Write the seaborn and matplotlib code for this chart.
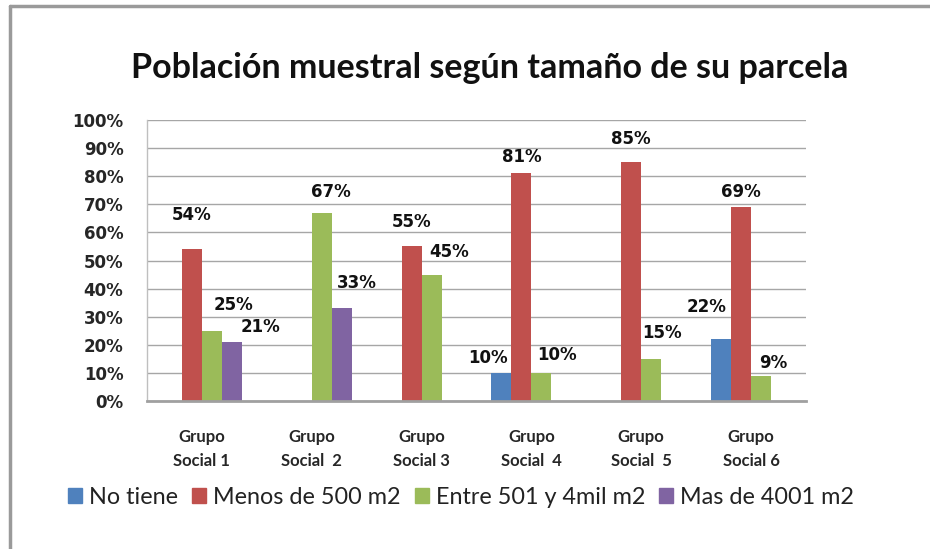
import numpy as np
import matplotlib
matplotlib.use("Agg")
import matplotlib.pyplot as plt
import matplotlib.patches as mpatches
import pandas as pd
import seaborn as sns

# data
grupos = ["Grupo\nSocial 1", "Grupo\nSocial  2", "Grupo\nSocial 3",
          "Grupo\nSocial  4", "Grupo\nSocial  5", "Grupo\nSocial 6"]
series = ["No tiene", "Menos de 500 m2", "Entre 501 y 4mil m2", "Mas de 4001 m2"]
no_tiene = [0, 0, 0, 10, 0, 22]
menos_500 = [54, 0, 55, 81, 85, 69]
entre_501_4mil = [25, 67, 45, 10, 15, 9]
mas_4001 = [21, 33, 0, 0, 0, 0]
colores = ["#4F81BD", "#C0504D", "#9BBB59", "#8064A2"]
y_ticks = np.arange(0, 101, 10)

# label offsets in pixels (dx, dy) per series, per group, mimicking the manual placement
label_offsets = {
    0: [None, None, None, (-13, 15), None, (-14, 32)],
    1: [(0, 34), None, (0, 24), (0, 16), (0, 23), (0, 15)],
    2: [(22, 26), (9, 21), (18, 23), (16, 18), (11, 26), (12, 13)],
    3: [(29, 15), (15, 25), None, None, None, None],
}

valores = [no_tiene, menos_500, entre_501_4mil, mas_4001]
df = pd.DataFrame({
    "grupo": np.tile(grupos, len(series)),
    "serie": np.repeat(series, len(grupos)),
    "valor": np.concatenate(valores) / 100.0,
})

sns.set_style("white")
plt.rcParams["font.family"] = ["Lato", "DejaVu Sans"]

fig = plt.figure(figsize=(9.3, 5.49), dpi=100)
ax = fig.add_axes([147 / 930, 1 - 401 / 549, 659 / 930, 281 / 549])

sns.barplot(data=df, x="grupo", y="valor", hue="serie", hue_order=series,
            order=grupos, palette=colores, width=0.73, saturation=1,
            edgecolor="none", legend=False, ax=ax)

for i, cont in enumerate(ax.containers):
    for j, bar in enumerate(cont):
        v = valores[i][j]
        if v == 0:
            continue
        dx, dy = label_offsets[i][j]
        ax.annotate(f"{v}%", (bar.get_x() + bar.get_width() / 2, bar.get_height()),
                    xytext=(dx, dy), textcoords="offset pixels",
                    ha="center", va="center", fontsize=12, fontweight="bold",
                    family="DejaVu Sans", color="#111111")

ax.set_ylim(0, 1)
ax.set_xlim(-0.5, len(grupos) - 0.5)
ax.set_yticks(y_ticks / 100)
ax.set_yticklabels([f"{t}%" for t in y_ticks], fontsize=12, fontweight="bold",
                   family="DejaVu Sans")
ax.set_xticks(range(len(grupos)))
ax.set_xticklabels(grupos, fontsize=12, fontweight="bold", linespacing=1.6)
ax.tick_params(axis="y", length=0, pad=17)
ax.tick_params(axis="x", length=0, pad=20)
ax.set_xlabel("")
ax.set_ylabel("")
ax.yaxis.grid(True, color="#A6A6A6", linewidth=1.0)
ax.set_axisbelow(True)
for s in ["top", "right"]:
    ax.spines[s].set_visible(False)
ax.spines["left"].set_color("#BFBFBF")
ax.spines["left"].set_linewidth(1.0)
ax.spines["bottom"].set_color("#A0A0A0")
ax.spines["bottom"].set_linewidth(2.0)

fig.text(490 / 930, 1 - 68 / 549, "Población muestral según tamaño de su parcela",
         ha="center", va="center", fontsize=24.5, fontweight="bold", color="#111111")

handles = [mpatches.Patch(color=c, label=s) for c, s in zip(colores, series)]
fig.legend(handles=handles, loc="center", bbox_to_anchor=(461 / 930, 1 - 497 / 549),
           ncol=4, frameon=False, fontsize=16.8, handlelength=0.6, handleheight=0.6,
           handletextpad=0.3, columnspacing=0.6, labelcolor="#222222")

# outer chart frame
fig.add_artist(plt.Line2D([10 / 930, 10 / 930], [0, 1 - 6 / 549],
                          transform=fig.transFigure, color="#9A9A9A", linewidth=2.5))
fig.add_artist(plt.Line2D([10 / 930, 1], [1 - 6 / 549, 1 - 6 / 549],
                          transform=fig.transFigure, color="#9A9A9A", linewidth=2.5))

fig.savefig("out.png", dpi=100, facecolor="white")
